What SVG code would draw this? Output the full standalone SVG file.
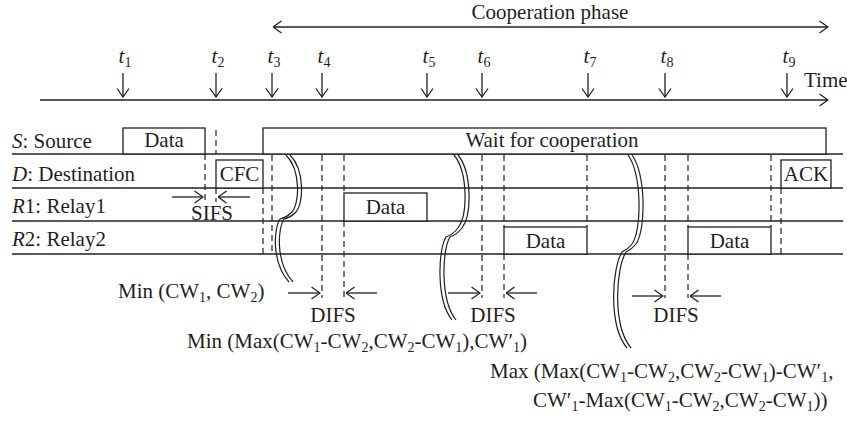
<svg xmlns="http://www.w3.org/2000/svg" xmlns:xlink="http://www.w3.org/1999/xlink" width="847" height="421" viewBox="0 0 847 421">
<style>
text{font-family:"Liberation Serif","Times New Roman",serif;font-size:21px;fill:#231f20}
.it{font-style:italic}
.sub{font-size:14px}
.mid{text-anchor:middle}
.ln{stroke:#231f20;stroke-width:1.3;fill:none}
.box{stroke:#231f20;stroke-width:1.3;fill:#fff}
.dash{stroke:#231f20;stroke-width:1.2;stroke-dasharray:6,4;fill:none}
.br{stroke:#231f20;stroke-width:1.2;fill:none}
</style>
<defs>
<marker id="ah" viewBox="0 0 10 14" refX="9.5" refY="7" markerWidth="10" markerHeight="14" markerUnits="userSpaceOnUse" orient="auto-start-reverse">
<path d="M1,1 L9.5,7 L1,13" fill="none" stroke="#231f20" stroke-width="1.3"/>
</marker>
<path id="b1" d="M286,155 C301,170 300,205 291,213 C288,216 284,218 280,219 C274,228 271,262 289,282"/>
<path id="b2" d="M454,155 C468,172 468,215 458,228 C455,232 451,235 446,237 C438,250 436,300 452,320"/>
<path id="b3" d="M628,155 C642,175 642,230 632,244 C629,248 626,250 622,252 C612,268 608,325 627,348"/>
</defs>
<rect width="847" height="421" fill="#fff"/>

<g id="header">
<text class="mid" x="550" y="19">Cooperation phase</text>
<line class="ln" x1="273" y1="27" x2="828" y2="27" marker-start="url(#ah)" marker-end="url(#ah)"/>
</g>

<g id="time-axis">
<line class="ln" x1="40" y1="100" x2="828" y2="100" marker-end="url(#ah)"/>
<text x="804" y="87">Time</text>
<g id="ticks">
<line class="ln" x1="123" y1="73" x2="123" y2="97" marker-end="url(#ah)"/>
<line class="ln" x1="216" y1="73" x2="216" y2="97" marker-end="url(#ah)"/>
<line class="ln" x1="272" y1="73" x2="272" y2="97" marker-end="url(#ah)"/>
<line class="ln" x1="322" y1="73" x2="322" y2="97" marker-end="url(#ah)"/>
<line class="ln" x1="427" y1="73" x2="427" y2="97" marker-end="url(#ah)"/>
<line class="ln" x1="482" y1="73" x2="482" y2="97" marker-end="url(#ah)"/>
<line class="ln" x1="588" y1="73" x2="588" y2="97" marker-end="url(#ah)"/>
<line class="ln" x1="665" y1="73" x2="665" y2="97" marker-end="url(#ah)"/>
<line class="ln" x1="787" y1="73" x2="787" y2="97" marker-end="url(#ah)"/>
</g>
<g id="tick-labels">
<text class="mid" x="125" y="63"><tspan class="it">t</tspan><tspan class="sub" dy="4">1</tspan></text>
<text class="mid" x="218" y="63"><tspan class="it">t</tspan><tspan class="sub" dy="4">2</tspan></text>
<text class="mid" x="274" y="63"><tspan class="it">t</tspan><tspan class="sub" dy="4">3</tspan></text>
<text class="mid" x="324" y="63"><tspan class="it">t</tspan><tspan class="sub" dy="4">4</tspan></text>
<text class="mid" x="429" y="63"><tspan class="it">t</tspan><tspan class="sub" dy="4">5</tspan></text>
<text class="mid" x="484" y="63"><tspan class="it">t</tspan><tspan class="sub" dy="4">6</tspan></text>
<text class="mid" x="590" y="63"><tspan class="it">t</tspan><tspan class="sub" dy="4">7</tspan></text>
<text class="mid" x="667" y="63"><tspan class="it">t</tspan><tspan class="sub" dy="4">8</tspan></text>
<text class="mid" x="789" y="63"><tspan class="it">t</tspan><tspan class="sub" dy="4">9</tspan></text>
</g>
</g>

<g id="lanes">
<line class="ln" x1="12" y1="154" x2="843" y2="154"/>
<line class="ln" x1="12" y1="188" x2="843" y2="188"/>
<line class="ln" x1="12" y1="221" x2="843" y2="221"/>
<line class="ln" x1="12" y1="254" x2="843" y2="254"/>
<text x="12" y="148"><tspan class="it">S</tspan>: Source</text>
<text x="12" y="181"><tspan class="it">D</tspan>: Destination</text>
<text x="12" y="213"><tspan class="it">R</tspan>1: Relay1</text>
<text x="12" y="246"><tspan class="it">R</tspan>2: Relay2</text>
</g>

<g id="frames">
<g id="s-data"><rect class="box" x="123" y="128" width="82" height="26"/><text class="mid" x="164" y="147">Data</text></g>
<g id="s-wait"><rect class="box" x="263" y="128" width="563" height="26"/><text class="mid" x="552" y="147">Wait for cooperation</text></g>
<g id="d-cfc"><rect class="box" x="216" y="160" width="47" height="28"/><text class="mid" x="239.5" y="181">CFC</text></g>
<g id="d-ack"><rect class="box" x="781" y="160" width="50" height="28"/><text class="mid" x="806" y="181">ACK</text></g>
<g id="r1-data"><rect class="box" x="344" y="193" width="83" height="28"/><text class="mid" x="385.5" y="214">Data</text></g>
<g id="r2-data1"><rect class="box" x="504" y="227" width="83" height="27"/><text class="mid" x="545.5" y="248">Data</text></g>
<g id="r2-data2"><rect class="box" x="688" y="227" width="83" height="27"/><text class="mid" x="729.5" y="248">Data</text></g>
</g>

<g id="connectors">
<g id="dashes">
<line class="dash" x1="205" y1="154" x2="205" y2="202"/>
<line class="dash" x1="216" y1="130" x2="216" y2="154"/>
<line class="dash" x1="216" y1="188" x2="216" y2="202"/>
<line class="dash" x1="263" y1="188" x2="263" y2="254"/>
<line class="dash" x1="272" y1="155" x2="272" y2="254"/>
<line class="dash" x1="322" y1="155" x2="322" y2="298"/>
<line class="dash" x1="344" y1="155" x2="344" y2="193"/>
<line class="dash" x1="344" y1="221" x2="344" y2="298"/>
<line class="dash" x1="482" y1="155" x2="482" y2="298"/>
<line class="dash" x1="504" y1="155" x2="504" y2="227"/>
<line class="dash" x1="504" y1="254" x2="504" y2="298"/>
<line class="dash" x1="587" y1="155" x2="587" y2="227"/>
<line class="dash" x1="665" y1="155" x2="665" y2="298"/>
<line class="dash" x1="688" y1="155" x2="688" y2="227"/>
<line class="dash" x1="688" y1="254" x2="688" y2="298"/>
<line class="dash" x1="771" y1="155" x2="771" y2="227"/>
<line class="dash" x1="781" y1="188" x2="781" y2="254"/>
</g>
<g id="braces">
<use xlink:href="#b1" class="br"/><use xlink:href="#b1" class="br" transform="translate(4,0)"/>
<use xlink:href="#b2" class="br"/><use xlink:href="#b2" class="br" transform="translate(4,0)"/>
<use xlink:href="#b3" class="br"/><use xlink:href="#b3" class="br" transform="translate(4,0)"/>
</g>
<g id="interval-arrows">
<line class="ln" x1="172" y1="197" x2="203" y2="197" marker-end="url(#ah)"/>
<line class="ln" x1="250" y1="197" x2="218" y2="197" marker-end="url(#ah)"/>
<line class="ln" x1="288" y1="293" x2="320" y2="293" marker-end="url(#ah)"/>
<line class="ln" x1="377" y1="293" x2="346" y2="293" marker-end="url(#ah)"/>
<line class="ln" x1="448" y1="293" x2="480" y2="293" marker-end="url(#ah)"/>
<line class="ln" x1="537" y1="293" x2="506" y2="293" marker-end="url(#ah)"/>
<line class="ln" x1="632" y1="296" x2="663" y2="296" marker-end="url(#ah)"/>
<line class="ln" x1="721" y1="296" x2="690" y2="296" marker-end="url(#ah)"/>
</g>
</g>

<g id="annotations">
<text class="mid" x="212" y="220">SIFS</text>
<text class="mid" x="333" y="322">DIFS</text>
<text class="mid" x="493" y="322">DIFS</text>
<text class="mid" x="676" y="322">DIFS</text>
<text x="118" y="298">Min (CW<tspan class="sub" dy="4">1</tspan><tspan dy="-4">, CW</tspan><tspan class="sub" dy="4">2</tspan><tspan dy="-4">)</tspan></text>
<text x="187" y="348">Min (Max(CW<tspan class="sub" dy="4">1</tspan><tspan dy="-4">-CW</tspan><tspan class="sub" dy="4">2</tspan><tspan dy="-4">,CW</tspan><tspan class="sub" dy="4">2</tspan><tspan dy="-4">-CW</tspan><tspan class="sub" dy="4">1</tspan><tspan dy="-4">),CW′</tspan><tspan class="sub" dy="4">1</tspan><tspan dy="-4">)</tspan></text>
<text x="490" y="378">Max (Max(CW<tspan class="sub" dy="4">1</tspan><tspan dy="-4">-CW</tspan><tspan class="sub" dy="4">2</tspan><tspan dy="-4">,CW</tspan><tspan class="sub" dy="4">2</tspan><tspan dy="-4">-CW</tspan><tspan class="sub" dy="4">1</tspan><tspan dy="-4">)-CW′</tspan><tspan class="sub" dy="4">1</tspan><tspan dy="-4">,</tspan></text>
<text x="533" y="407">CW′<tspan class="sub" dy="4">1</tspan><tspan dy="-4">-Max(CW</tspan><tspan class="sub" dy="4">1</tspan><tspan dy="-4">-CW</tspan><tspan class="sub" dy="4">2</tspan><tspan dy="-4">,CW</tspan><tspan class="sub" dy="4">2</tspan><tspan dy="-4">-CW</tspan><tspan class="sub" dy="4">1</tspan><tspan dy="-4">))</tspan></text>
</g>
</svg>
